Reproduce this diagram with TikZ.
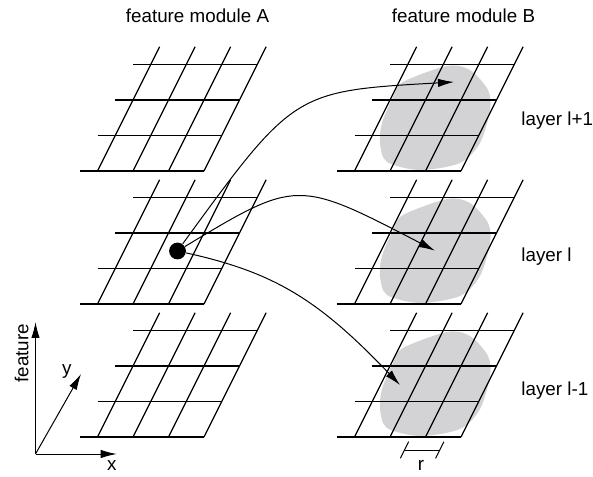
\documentclass[tikz,border=0pt]{standalone}
\usepackage{fontspec}
\setmainfont{Liberation Sans}
\usepackage{tikz}
\usetikzlibrary{arrows.meta}
\definecolor{rfgray}{RGB}{211,211,213}
\tikzstyle{gridline} = [line width=0.6pt, color=black]
\tikzstyle{arrow} = [line width=0.5pt, -{Latex[length=8pt,width=4.2pt]}]
\tikzstyle{unit} = [circle, fill=black, minimum size=8.4pt, inner sep=0pt]
\tikzstyle{txt} = [font=\fontsize{9.4}{11}\selectfont, inner sep=0pt]
% one skewed 3x3 map, lower left corner at (#1,#2)
\newcommand{\layergrid}[2]{%
  \foreach \i in {0,...,3}
    \draw[gridline] (#1+35.5*\i,#2) -- ++(62.125,124.25);
  \foreach \j in {0,...,3}
    \draw[gridline] (#1+17.75*\j-17.75,#2+35.5*\j) -- ++(124.25,0);
}
% grey receptive field under a map of module B
\newcommand{\rfield}[2]{%
  \begin{scope}[shift={(#1,#2)}]
    \fill[rfgray] plot[smooth cycle] coordinates {(48.5,89) (92.5,105) (115.5,101) (133.5,81) (135.5,61) (125.5,28) (105.5,8) (65.5,1) (32.5,9) (25.5,28) (27.5,48) (38.5,74)};
  \end{scope}
}

\begin{document}
\begin{tikzpicture}[x=0.5pt, y=0.5pt]
\useasboundingbox (0,0) rectangle (593,476);

% Titles
\node (modA) [txt] at (197.5,460) {feature module A};
\node (modB) [txt] at (463.5,460) {feature module B};

% Module A
\layergrid{97.5}{305}
\layergrid{97.5}{172}
\layergrid{97.5}{39}

% Module B with receptive fields
\rfield{354.5}{305}
\rfield{354.5}{172}
\rfield{354.5}{39}
\layergrid{354.5}{305}
\layergrid{354.5}{172}
\layergrid{354.5}{39}

% Layer names
\node (lup) [txt, anchor=west] at (521,355) {layer l+1};
\node (lmid) [txt, anchor=west] at (521,219) {layer l};
\node (ldown) [txt, anchor=west] at (521,85) {layer l-1};

% Connections from one unit
\node (cell) [unit] at (177.5,225) {};
\coordinate (tipup) at (454,394);
\coordinate (tipmid) at (435,225.3);
\coordinate (tipdown) at (400,91);
\draw[arrow] (cell) .. controls (294,385) .. (tipup);
\draw[arrow] (cell) .. controls (297,297) .. (tipmid);
\draw[arrow] (cell) .. controls (273.6,203.8) and (318,177) .. (tipdown);

% Field size r
\coordinate (rleft) at (404.5,26);
\coordinate (rright) at (439.7,26);
\draw[line width=0.5pt] (rleft) -- (rright);
\draw[line width=0.5pt] (rleft) ++(4.15,8.3) -- ++(-8.3,-16.6);
\draw[line width=0.5pt] (rright) ++(4.15,8.3) -- ++(-8.3,-16.6);
\node (rlbl) [txt] at (421,11) {r};

% Axes
\coordinate (orig) at (35.5,22);
\coordinate (featend) at (35.5,154);
\coordinate (xend) at (116.7,22);
\coordinate (yend) at (81,102);
\draw[arrow] (orig) -- (featend);
\draw[arrow] (orig) -- (xend);
\draw[arrow] (orig) -- (yend);
\node (featlbl) [txt, rotate=90] at (21.7,122.7) {feature};
\node (ylbl) [txt] at (66.7,104.3) {y};
\node (xlbl) [txt] at (111.7,10) {x};
\end{tikzpicture}
\end{document}
